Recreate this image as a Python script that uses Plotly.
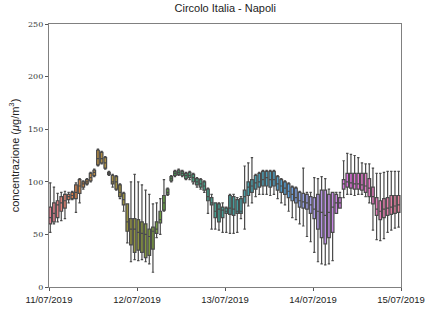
import math, colorsys
import plotly.graph_objects as go

hours = list(range(96))
q1 = [60,62,66,72,75,83,84,84,89,95,
      98,101,106,116,118,113,107,98,93,86,
      78,53,40,33,35,33,28,30,36,51,
      61,73,88,101,106,107,106,103,104,100,
      97,95,92,82,78,66,62,66,70,69,
      68,70,70,80,87,90,93,95,96,96,
      95,96,92,90,88,85,82,80,76,75,
      74,70,65,55,47,41,47,52,70,75,
      93,95,94,93,93,92,90,86,79,68,
      64,66,68,69,70,71]
median = [66,70,78,80,82,86,87,90,96,98,
          100,104,109,122,122,118,108,100,100,90,
          83,62,55,55,52,51,50,48,53,55,
          64,80,90,103,108,109,108,106,106,104,
          100,98,96,86,80,72,74,73,72,75,
          74,72,72,86,95,96,99,100,102,104,
          102,102,98,96,94,91,88,85,82,81,
          80,78,74,72,71,68,71,76,80,80,
          98,100,99,98,98,97,96,94,86,74,
          72,74,75,76,77,78]
q3 = [76,80,82,86,88,88,90,97,102,100,
      102,108,111,130,128,123,109,106,105,97,
      89,79,65,65,64,62,60,55,57,62,
      72,87,93,105,110,111,110,108,109,107,
      103,102,100,93,85,80,79,76,75,87,
      86,83,84,92,100,102,106,108,110,110,
      110,110,105,102,100,98,95,94,90,89,
      88,86,85,88,92,92,88,90,88,85,
      102,108,108,108,108,108,108,103,95,85,
      82,84,85,87,87,87]
lower = [52,60,62,63,65,80,83,71,80,93,
         97,100,105,115,117,112,106,95,92,84,
         72,42,24,26,25,26,24,22,14,47,
         50,72,87,100,105,106,105,102,102,98,
         95,93,90,70,55,55,54,52,52,51,
         51,52,65,55,77,80,86,88,88,88,
         87,88,84,80,78,72,66,64,60,58,
         48,43,33,24,22,21,22,25,70,75,
         85,88,88,87,88,88,86,80,54,45,
         44,46,52,54,56,57]
upper = [99,95,89,90,91,90,91,99,103,101,
         103,109,112,131,129,124,110,107,106,98,
         90,79,100,107,100,97,92,88,79,80,
         84,102,94,106,111,112,111,109,110,108,
         104,103,101,94,88,80,80,80,76,88,
         88,85,86,115,118,123,107,109,111,111,
         111,111,106,103,101,99,96,95,91,113,
         90,90,104,103,105,103,93,89,90,90,
         120,127,126,125,123,118,117,117,113,108,
         108,109,110,110,110,110]
tick_pos = [0, 24, 48, 72, 96]
tick_text = ["11/07/2019", "12/07/2019", "13/07/2019", "14/07/2019", "15/07/2019"]

# ---- HSLuv (husl) palette, as seaborn ----
M = [[3.240969941904521, -1.537383177570093, -0.498610760293],
     [-0.96924363628087, 1.87596750150772, 0.041555057407175],
     [0.055630079696993, -0.20397695888897, 1.056971514242878]]
refU, refV = 0.19783000664283, 0.46831999493879
kappa, eps = 903.2962962, 0.0088564516

def bounds(L):
    res = []
    sub1 = (L + 16) ** 3 / 1560896
    sub2 = sub1 if sub1 > eps else L / kappa
    for m1, m2, m3 in M:
        for t in (0, 1):
            top1 = (284517 * m1 - 94839 * m3) * sub2
            top2 = (838422 * m3 + 769860 * m2 + 731718 * m1) * L * sub2 - 769860 * t * L
            bottom = (632260 * m3 - 126452 * m2) * sub2 + 126452 * t
            res.append((top1 / bottom, top2 / bottom))
    return res

def max_chroma(L, H):
    hr = math.radians(H)
    lens = []
    for s, i in bounds(L):
        d = math.sin(hr) - s * math.cos(hr)
        if d != 0:
            ln = i / d
            if ln >= 0:
                lens.append(ln)
    return min(lens)

def fl(c):
    c = 12.92 * c if c <= 0.0031308 else 1.055 * c ** (1 / 2.4) - 0.055
    return min(max(c, 0), 1)

def husl_rgb(H, S, L):
    C = max_chroma(L, H) / 100 * S
    hr = math.radians(H)
    U, V = math.cos(hr) * C, math.sin(hr) * C
    Y = L / kappa if L <= 8 else ((L + 16) / 116) ** 3
    vU = U / (13 * L) + refU
    vV = V / (13 * L) + refV
    X = -(9 * Y * vU) / ((vU - 4) * vV - vU * vV)
    Z = (9 * Y - 15 * vV * Y - vV * X) / (3 * vV)
    return [fl(M[k][0] * X + M[k][1] * Y + M[k][2] * Z) for k in range(3)]

n = len(hours)
colors = []
for k in range(n):
    h = ((k / n) + 0.01) % 1 * 359
    r, g, b = husl_rgb(h, 0.9 * 99, 0.65 * 99)
    hh, ll, ss = colorsys.rgb_to_hls(r, g, b)
    r, g, b = colorsys.hls_to_rgb(hh, ll, ss * 0.75)
    colors.append("rgb(%d,%d,%d)" % (round(r * 255), round(g * 255), round(b * 255)))

fig = go.Figure()
for k in range(n):
    fig.add_trace(go.Box(
        x=[hours[k] + 0.35], q1=[q1[k]], median=[median[k]], q3=[q3[k]],
        lowerfence=[lower[k]], upperfence=[upper[k]],
        width=0.72, fillcolor=colors[k], whiskerwidth=0.9,
        line=dict(color="#4a4a4a", width=1.2), showlegend=False,
        hoverinfo="skip"))

fig.update_layout(
    width=425, height=312,
    margin=dict(l=49, r=24, t=24, b=25, autoexpand=False),
    plot_bgcolor="white", paper_bgcolor="white",
    title=dict(text="Circolo Italia - Napoli", x=0.53, xanchor="center",
               y=0.985, yanchor="top",
               font=dict(family="Liberation Sans, Arial", size=11, color="#222")),
    xaxis=dict(range=[0, 96], tickmode="array", tickvals=tick_pos, ticktext=tick_text,
               showgrid=False, zeroline=False, showline=True, linecolor="#808080",
               linewidth=1.3, mirror=True, ticks="outside", ticklen=3, tickcolor="#555",
               ticklabeloverflow="allow", automargin=False,
               tickfont=dict(family="Liberation Sans, Arial", size=9.5, color="#222")),
    yaxis=dict(range=[0, 250], tickvals=[0, 50, 100, 150, 200, 250],
               showgrid=False, zeroline=False, showline=True, linecolor="#808080",
               linewidth=1.3, mirror=True, ticks="outside", ticklen=3, tickcolor="#555",
               automargin=False,
               tickfont=dict(family="DejaVu Serif, serif", size=8, color="#333"),
               title=dict(text="concentrazione (<i>μ</i>g/m<sup>3</sup>)", standoff=6,
                          font=dict(family="Liberation Sans, Arial", size=11, color="#222"))),
)
fig.write_html("out.html", config={"displayModeBar": False},
               post_script="document.body.style.margin='0';")
